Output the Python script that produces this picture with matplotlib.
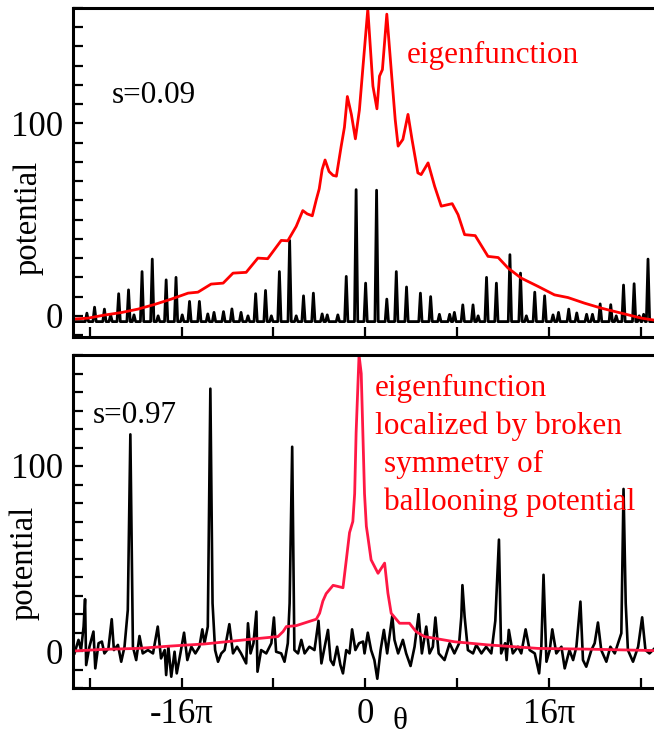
import matplotlib
matplotlib.use("Agg")
import matplotlib.pyplot as plt
import numpy as np
from matplotlib.ticker import MultipleLocator, FuncFormatter

plt.rcParams['font.family'] = ['Liberation Serif', 'DejaVu Serif']

# ---- top panel, s = 0.09 ----
# black potential: spike positions (theta, rad) and peak heights
top_spike_theta = [-76.2, -74.1, -71.4, -69.7, -67.5, -64.8, -63.3, -61.1, -58.3, -56.7,
                   -54.5, -51.8, -50.1, -48.1, -45.4, -43.1, -41.4, -38.8, -36.5, -34.0,
                   -32.1, -30.0, -27.3, -25.7, -23.5, -20.7, -18.9, -16.9, -14.2, -11.8,
                   -10.4, -7.5, -5.2, -2.5, 0.1, 3.1, 5.9, 8.5, 11.3, 15.1,
                   17.9, 20.3, 23.1, 24.4, 26.7, 29.5, 30.9, 33.2, 35.9, 39.6,
                   42.5, 44.1, 46.4, 49.1, 51.4, 52.9, 55.7, 57.9, 60.6, 62.2,
                   64.3, 67.2, 68.7, 70.7, 73.6, 75.0, 76.2, 77.4]
top_spike_height = [1.4, 4.5, 3.5, 0.5, 11.5, 13.5, 0.5, 23, 29.5, 0,
                    18.7, 20, 0.5, 7.5, 7.5, 1, 1.8, 2.2, 3.6, 1.8,
                    0, 11.5, 13.2, 0, 23, 39.2, 0, 10.4, 11.8, 1,
                    0.5, 0.5, 20.5, 65.6, 17, 65.3, 8.7, 23, 15, 11.8,
                    10, 0.8, 0.8, 1.8, 5.7, 5.7, 0, 20, 17, 31.8,
                    22.2, 0, 12.3, 10.4, 0.5, 1.8, 3.5, 1.5, 0.8, 0.8,
                    6.2, 5.8, 0, 16, 16.7, 0, 0.8, 29.5]
top_base = -3.0

# red eigenfunction
top_eig_theta = [-80, -75.9, -71.4, -66.8, -62.2, -57.7, -53.1, -48.5, -45.8, -42.2,
                 -38.9, -36.2, -32.6, -29.4, -26.7, -23.0, -21.2, -18.9, -17.1, -15.9,
                 -14.5, -13.4, -12.6, -11.8, -11.0, -9.9, -8.8, -7.9, -6.6, -5.7,
                 -4.9, -3.8, -2.7, -1.6, -0.6, 0.7, 2.1, 3.2, 3.9, 4.7,
                 5.9, 7.1, 8.2, 9.0, 10.3, 11.7, 12.8, 14.4, 15.3, 17.2,
                 19.0, 20.8, 23.8, 25.4, 27.2, 30.1, 33.6, 36.4, 39.1, 42.7,
                 47.3, 51.8, 55.5, 60.0, 64.6, 70.1, 75.6, 80]
top_eig_value = [-1.7, -1.2, 0.4, 1.7, 3.5, 5.9, 8.7, 11.8, 12.3, 16.5,
                 17.0, 22.2, 22.6, 30, 29.7, 39.2, 39.0, 46.5, 54.7, 53,
                 52, 60.4, 66, 76, 81, 75, 73, 72.6, 88, 98,
                 114, 104.7, 92, 107, 130, 159.4, 119.4, 107.6, 124.6, 128,
                 156.8, 128, 102, 88.2, 91.7, 104.7, 91.7, 74.3, 73.4, 79.5,
                 67.3, 57, 58.3, 52.6, 42.2, 41.7, 30.9, 30.3, 24.8, 19.6,
                 15.3, 10.9, 9.5, 6.6, 4, 1.4, -1.2, -2.5]

# ---- bottom panel, s = 0.97 ----
bot_pot_theta = [-79.6, -78.5, -77.8, -77.1, -76.7, -76.4, -75.5, -74.4, -73.9, -73.0,
                 -72.1, -71.4, -70.3, -69.4, -68.8, -67.7, -66.8, -65.9, -65.0, -64.3,
                 -63.6, -62.7, -61.8, -60.9, -59.5, -58.1, -56.8, -55.9, -54.9, -54.5,
                 -53.9, -53.1, -52.2, -51.6, -50.6, -49.6, -48.7, -47.6, -46.5, -45.4,
                 -44.6, -44.0, -43.1, -42.4, -41.8, -41.1, -40.3, -39.4, -38.5, -37.2,
                 -36.2, -35.1, -34.0, -32.6, -32.1, -31.4, -30.6, -29.8, -29.5, -28.5,
                 -27.1, -25.7, -25.0, -24.4, -23.0, -22.1, -21.2, -20.7, -20.0, -19.4,
                 -18.4, -17.5, -16.6, -15.3, -13.9, -12.8, -12.0, -11.1, -10.2, -9.5,
                 -8.7, -7.7, -6.8, -6.1, -5.2, -4.3, -3.6, -2.7, -1.7, -0.6,
                 -0.2, 0.7, 1.6, 2.5, 3.3, 4.2, 5.1, 6.0, 7.4, 8.0,
                 9.0, 10.3, 11.2, 12.4, 13.5, 14.6, 15.5, 16.7, 17.6, 18.5,
                 19.2, 20.1, 21.7, 23.1, 24.4, 25.7, 26.3, 26.6, 27.2, 28.1,
                 29.5, 30.4, 31.8, 33.1, 34.5, 35.6, 36.6, 37.2, 38.3, 38.7,
                 39.3, 40.4, 41.8, 42.7, 43.9, 45.0, 46.4, 47.6, 48.2, 48.8,
                 49.6, 50.5, 51.2, 52.3, 53.7, 54.6, 55.9, 56.9, 57.8, 58.9,
                 59.6, 60.5, 61.9, 62.8, 63.7, 64.6, 66.0, 67.1, 68.3, 69.2,
                 70.1, 70.7, 71.3, 71.9, 73.3, 74.7, 75.8, 76.7, 77.8, 79.2]
bot_pot_value = [-1.3, 6.0, 0.5, 13.2, 28.0, -7.6, 2.3, 10.5, -9.4, 4.2,
                 5.1, -1.3, 1.4, 17.2, 0.5, 3.3, -5.8, 2.3, 22.2, 117.1,
                 2.3, -4.9, 8.1, -1.3, 0.5, -1.3, 13.2, -4.0, 0.5, -13.0,
                 2.3, -13.9, -0.4, -12.1, -1.3, 9.9, -4.9, 2.3, -1.3, 2.3,
                 11.7, 4.2, 13.2, 141.8, 25.8, 0.5, -5.8, -1.3, 0.5, 14.5,
                 -1.3, 2.3, -1.3, -6.7, 15.0, -1.3, 4.2, 21.3, -11.2, 0.5,
                 -1.3, 4.2, 18.1, -0.4, -1.3, -5.8, 4.2, 25.8, 110.4, 0.5,
                 -1.3, 6.0, -1.3, 2.3, 0.5, 16.3, -6.7, 2.3, 11.4, -4.9,
                 -7.6, 2.3, -7.6, -12.1, 0.5, -1.3, 11.7, 0.5, 4.2, 5.1,
                 -1.3, 9.9, 0.5, -4.9, -15.0, 0.5, 11.4, -1.3, 19.0, 6.0,
                 -1.3, 6.0, -1.3, -8.1, 2.3, 19.9, -1.3, 13.2, -1.3, 2.3,
                 18.1, -1.3, -4.9, 4.2, -1.3, 4.2, 18.6, 35.6, 18.6, 0.5,
                 -1.3, 3.3, -1.3, 2.3, -1.3, 16.3, 60.2, -1.3, 4.2, -4.9,
                 11.4, -1.3, 2.3, -1.3, 11.7, 0.5, -1.3, -12.1, 2.3, 41.2,
                 -5.8, 0.5, 11.7, -1.3, 2.3, -9.4, 0.5, -4.9, 2.3, 26.7,
                 -4.9, -8.5, 0.5, 4.2, 15.4, 0.5, -5.8, 2.3, -1.3, 4.2,
                 9.6, 87.6, 25.8, 0.5, -5.8, 2.3, 18.2, 0.5, -1.3, 1.4]

bot_eig_theta = [-80, -71.4, -62.2, -53.1, -44.0, -31.7, -23.9, -22.5, -21.6, -18.9,
                 -13.4, -12.5, -11.6, -10.7, -8.8, -7.7, -6.1, -5.2, -4.3, -3.4,
                 -2.9, -2.5, -1.7, -1.1, -0.6, -0.2, 0.3, 0.7, 1.6, 3.5,
                 5.3, 6.2, 7.1, 9.4, 12.1, 13.9, 16.2, 24.4, 33.6, 47.3,
                 61.0, 80]
bot_eig_value = [0, 0.9, 1.4, 2.7, 3.8, 6.3, 7.8, 10.5, 13.2, 13.7,
                 17.2, 20.4, 27, 31, 35.5, 35, 34.2, 49, 64, 70,
                 85, 118, 160, 150, 114, 85, 67.4, 62, 49.3, 42,
                 47.5, 31.3, 20.4, 15, 15, 10.5, 7.8, 5, 3.3, 1.4,
                 1, 0.2]

xtick_labels = {-16: "-16\u03c0", 0: "0", 16: "16\u03c0"}


def spike_line(pos, height, base, hw=0.45):
    xs, ys = [-80.0], [base]
    for p, h in zip(pos, height):
        xs += [p - hw, p, p + hw]
        ys += [base, h, base]
    xs.append(80.0)
    ys.append(base)
    return xs, ys


W, H = 654, 738
fig = plt.figure(figsize=(W / 100, H / 100), dpi=100)

ax1 = fig.add_axes([73 / W, (H - 337) / H, 584.5 / W, 329 / H])
ax2 = fig.add_axes([73 / W, (H - 688) / H, 584.5 / W, 333 / H])

red_top = '#ff0000'
red_bot = '#ff1744'

bx, by = spike_line(top_spike_theta, top_spike_height, top_base)
ax1.plot(bx, by, color='black', lw=2.0)
ax1.plot(top_eig_theta, top_eig_value, color=red_top, lw=2.0)
ax1.set_ylim(-11, 160)

ax2.plot(bot_pot_theta, bot_pot_value, color='black', lw=1.9)
ax2.plot(bot_eig_theta, bot_eig_value, color=red_bot, lw=2.0)
ax2.set_ylim(-20, 160)

for ax in (ax1, ax2):
    ax.set_xlim(-80, 80)
    ax.xaxis.set_major_locator(MultipleLocator(8 * np.pi))
    ax.yaxis.set_major_locator(MultipleLocator(10))
    ax.yaxis.set_major_formatter(FuncFormatter(
        lambda v, p: "%d" % round(v) if round(v) in (0, 100) else ""))
    ax.tick_params(direction='in', length=7, width=1.6, labelsize=25,
                   top=False, right=False, pad=7)
    for s in ax.spines.values():
        s.set_linewidth(2.2)

ax1.xaxis.set_major_formatter(FuncFormatter(lambda v, p: ""))
ax2.xaxis.set_major_formatter(FuncFormatter(
    lambda v, p: xtick_labels.get(int(round(v / np.pi)), "")))

fs = 22.5
fig.text(28 / W, (H - 218) / H, "potential", rotation=90, ha='center', va='center', fontsize=23.5)
fig.text(24 / W, (H - 563) / H, "potential", rotation=90, ha='center', va='center', fontsize=23.5)
fig.text(112 / W, (H - 103) / H, "s=0.09", fontsize=fs, va='baseline')
fig.text(93 / W, (H - 423) / H, "s=0.97", fontsize=fs, va='baseline')
fig.text(407 / W, (H - 63) / H, "eigenfunction", color=red_top, fontsize=fs, va='baseline')
fig.text(375 / W, (H - 396) / H, "eigenfunction", color=red_top, fontsize=fs, va='baseline')
fig.text(375 / W, (H - 434) / H, "localized by broken", color=red_top, fontsize=fs, va='baseline')
fig.text(384 / W, (H - 472) / H, "symmetry of", color=red_top, fontsize=fs, va='baseline')
fig.text(384 / W, (H - 510) / H, "ballooning potential", color=red_top, fontsize=fs, va='baseline')
fig.text(400 / W, 2 / H, "\u03b8", fontsize=fs, ha='center', va='bottom')

fig.savefig("out.png", dpi=100)
